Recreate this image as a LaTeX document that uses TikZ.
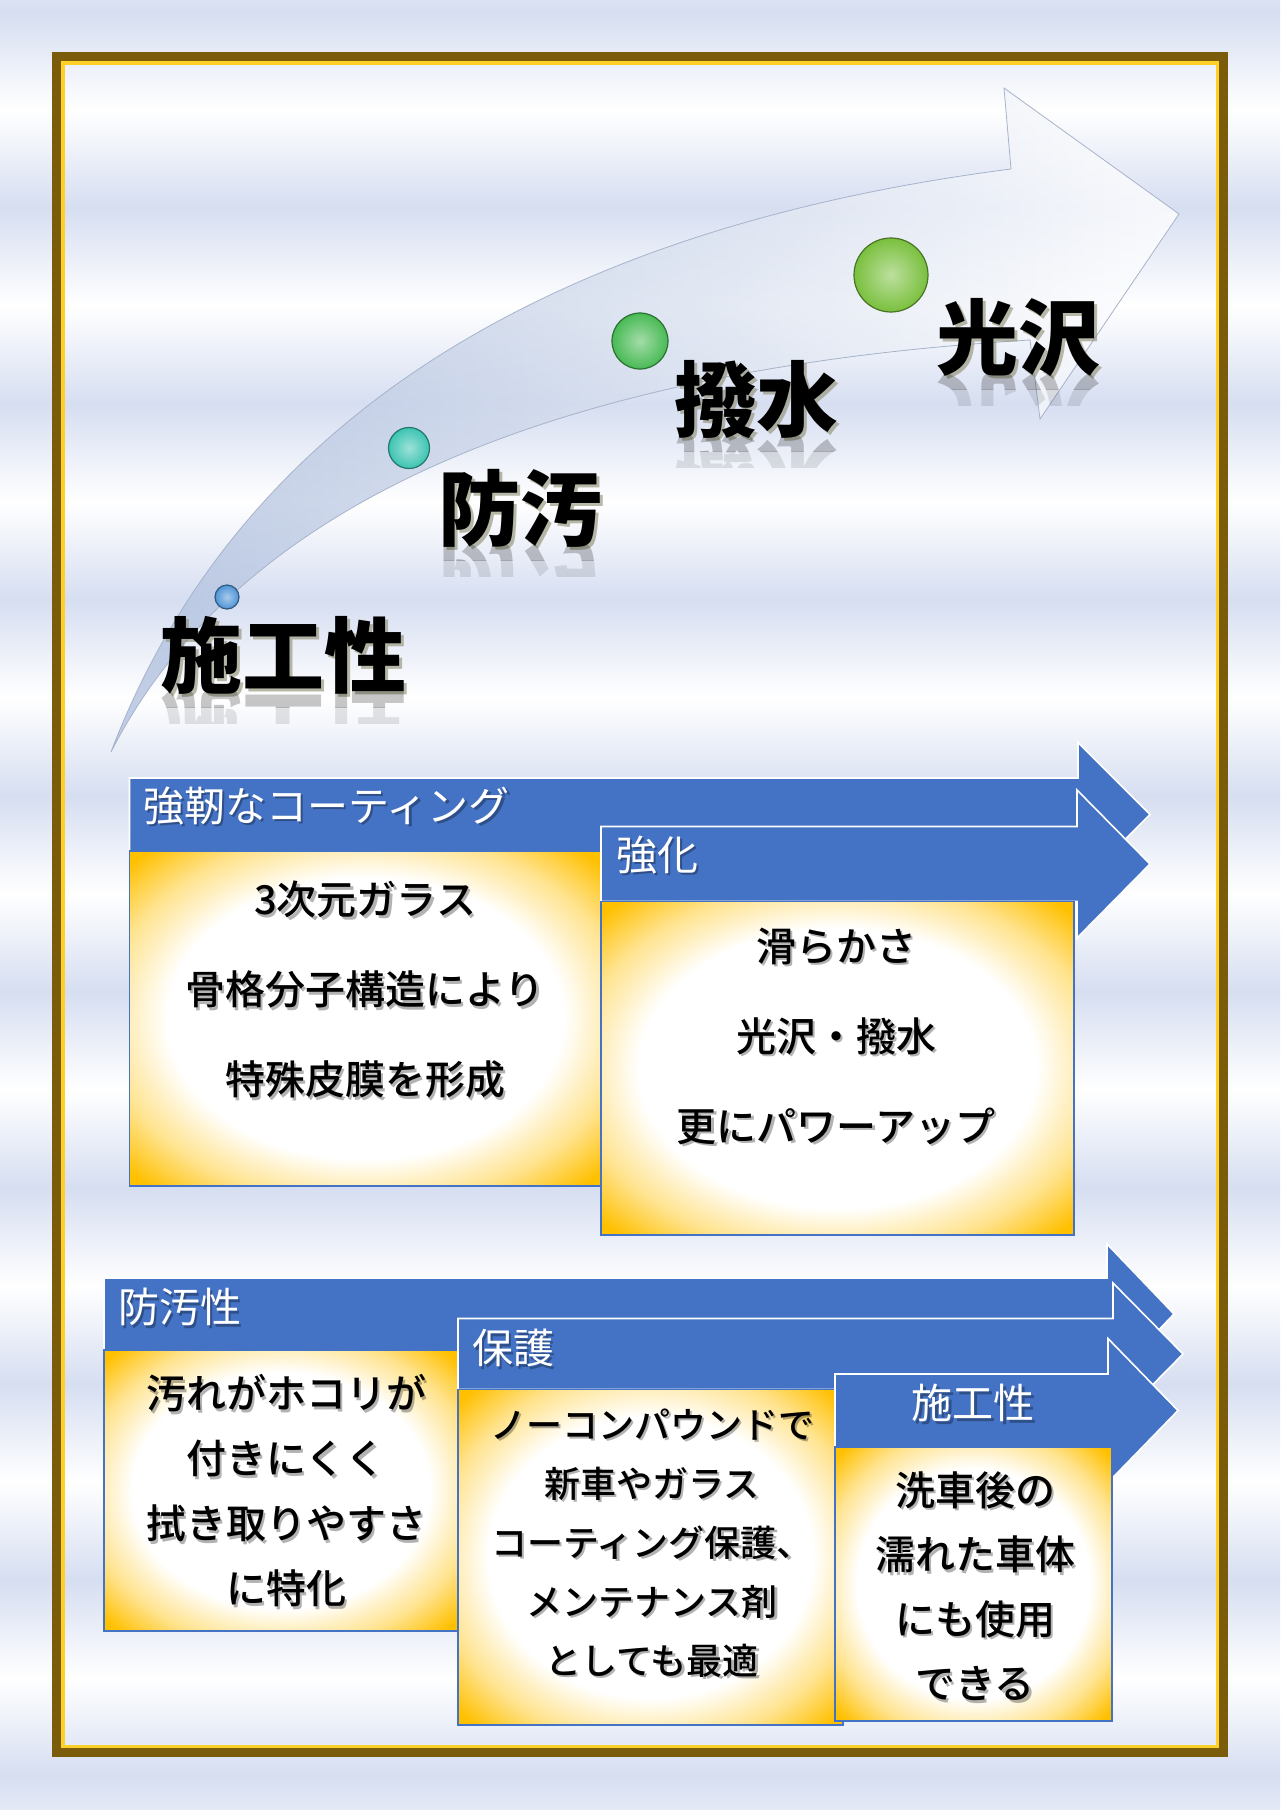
\documentclass[tikz,border=0pt]{standalone}
\usepackage{fontspec}
\newfontfamily\jp{Noto Sans CJK JP}
\newfontfamily\jpmed{Noto Sans CJK JP}[UprightFont={* Medium}]

\definecolor{lav}{RGB}{214,222,241}
\definecolor{framebrown}{RGB}{122,92,10}
\definecolor{framegold}{RGB}{255,208,40}
\definecolor{barblue}{RGB}{68,114,196}
\definecolor{boxgold}{RGB}{255,192,0}
\definecolor{arrowtail}{RGB}{176,192,222}
\definecolor{glowgray}{RGB}{140,140,110}
\definecolor{gemblue}{RGB}{79,148,214}
\definecolor{gemteal}{RGB}{60,196,178}
\definecolor{gemgreen}{RGB}{72,186,84}
\definecolor{gemlime}{RGB}{122,192,62}

\pgfdeclareradialshading{boxglow}{\pgfpoint{0bp}{0bp}}{%
  color(0bp)=(white); color(21bp)=(white); color(28bp)=(boxgold!45);
  color(34bp)=(boxgold); color(50bp)=(boxgold)}

\tikzset{
  blockarrow/.style={fill=barblue, draw=white, line width=1.6pt, line join=miter},
  panel/.style={shade, shading=boxglow, draw=barblue, line width=1.2pt},
  gem/.style 2 args={circle, minimum size=#1, inner sep=0pt, draw=#2!60!black,
    line width=1.2pt, inner color=#2!50!white, outer color=#2},
  steptext/.style={font=\jp\bfseries\fontsize{82}{82}\selectfont, inner sep=0pt},
  bartext/.style={font=\jp\fontsize{41}{41}\selectfont, text=white, inner sep=0pt},
  boxtext/.style 2 args={font=\jpmed\fontsize{#1}{#2}\selectfont, align=center, inner sep=0pt},
}

% left x, axis y, head base x, tip x, half shaft, half head
\newcommand\blockarrow[6]{%
  \path[blockarrow] (#1,#2-#5) -- (#3,#2-#5) -- (#3,#2-#6) -- (#4,#2)
    -- (#3,#2+#6) -- (#3,#2+#5) -- (#1,#2+#5) -- cycle;}
% text with a soft shadow under it
\newcommand\duptext[4]{%
  \node[#3, text=black, opacity=.3, xshift=2.5pt, yshift=-2.5pt] (#1-sh) at (#2) {#4};
  \node[#3] (#1) at (#2) {#4};}
% big label with glow and a fading reflection
\newcommand\steplabel[4]{%
  \node[steptext, text=glowgray, opacity=.6, xshift=3pt, yshift=-3pt] (#1-sh) at (#2,#3) {#4};
  \begin{scope}
    \clip (#2-130,#3+37) rectangle (#2+130,#3+52);
    \node[steptext, opacity=.22] (#1-rf) at (#2,#3+74) {\scalebox{1}[-1]{#4}};
  \end{scope}
  \begin{scope}
    \clip (#2-130,#3+52) rectangle (#2+130,#3+68);
    \node[steptext, opacity=.1] (#1-rf2) at (#2,#3+74) {\scalebox{1}[-1]{#4}};
  \end{scope}
  \node[steptext] (#1) at (#2,#3) {#4};}

\begin{document}
\begin{tikzpicture}[x=1pt, y=-1pt]
  \useasboundingbox (0,0) rectangle (1280,1810);
  \fill[white] (0,0) rectangle (1280,1810);
  % soft stripes of the background
  \foreach \k in {0,...,9} {
    \shade[top color=white, bottom color=lav] (0,{196*\k-86}) rectangle (1280,{196*\k+12});
    \shade[top color=lav, bottom color=white] (0,{196*\k+12}) rectangle (1280,{196*\k+110});
  }
  % frame
  \draw[framebrown, line width=9pt] (56.5,56.5) rectangle (1223.5,1752.5);
  \draw[framegold, line width=3.5pt] (62.75,62.75) rectangle (1217.25,1746.25);

  % big curved arrow
  \coordinate (tail)    at (111,752);
  \coordinate (upjoin)  at (1011,169);
  \coordinate (headtop) at (1004,88);
  \coordinate (tip)     at (1179,214);
  \coordinate (headbot) at (1040,419);
  \coordinate (lowjoin) at (1030,340);
  \path[left color=arrowtail, right color=white, fill opacity=.8,
        draw=arrowtail!80!gray, line width=.8pt]
    (tail) .. controls (230,440) and (520,232) .. (upjoin) -- (headtop) -- (tip)
    -- (headbot) -- (lowjoin) .. controls (700,360) and (270,440) .. (tail) -- cycle;

  \node[gem={24pt}{gemblue}]  (g1) at (227,597) {};
  \node[gem={41pt}{gemteal}]  (g2) at (409,448) {};
  \node[gem={56pt}{gemgreen}] (g3) at (640,341) {};
  \node[gem={74pt}{gemlime}]  (g4) at (891,275) {};

  \steplabel{work}{283}{655}{施工性}
  \steplabel{guard}{520}{508}{防汚}
  \steplabel{repel}{756}{399}{撥水}
  \steplabel{gloss}{1018}{337}{光沢}

  % middle block
  \blockarrow{129.5}{814.5}{1078}{1150}{36.5}{72}
  \path[panel] (129.5,851) rectangle (601,1186);
  \blockarrow{601}{864}{1077}{1150}{37.5}{74}
  \path[panel] (601,901.5) rectangle (1074,1235);

  \duptext{tough}{143,806}{bartext, anchor=west}{強靭なコーティング}
  \duptext{boost}{616,855}{bartext, anchor=west}{強化}
  \duptext{toughtx}{365,990}{boxtext={40}{90}}{3次元ガラス\\骨格分子構造により\\特殊皮膜を形成}
  \duptext{boosttx}{836,1036}{boxtext={40}{90}}{滑らかさ\\光沢・撥水\\更にパワーアップ}

  % lower block
  \blockarrow{104}{1314}{1107}{1174}{36}{70}
  \path[panel] (104,1350) rectangle (458,1631);
  \blockarrow{458}{1354}{1113}{1183}{35.5}{71}
  \path[panel] (458,1389.5) rectangle (843,1725);
  \blockarrow{835}{1410.5}{1108}{1178}{36.5}{72}
  \path[panel] (835,1447) rectangle (1112,1721);

  \duptext{dirt}{118,1307}{bartext, anchor=west}{防汚性}
  \duptext{shield}{472,1348}{bartext, anchor=west}{保護}
  \duptext{easy}{973,1403}{bartext}{施工性}
  \duptext{dirttx}{286,1491}{boxtext={40}{65}}{汚れがホコリが\\付きにくく\\拭き取りやすさ\\に特化}
  \duptext{shieldtx}{652,1543}{boxtext={36}{59}}{ノーコンパウンドで\\新車やガラス\\コーティング保護、\\メンテナンス剤\\としても最適}
  \duptext{easytx}{975,1586}{boxtext={40}{64.5}}{洗車後の\\濡れた車体\\にも使用\\できる}
\end{tikzpicture}
\end{document}
